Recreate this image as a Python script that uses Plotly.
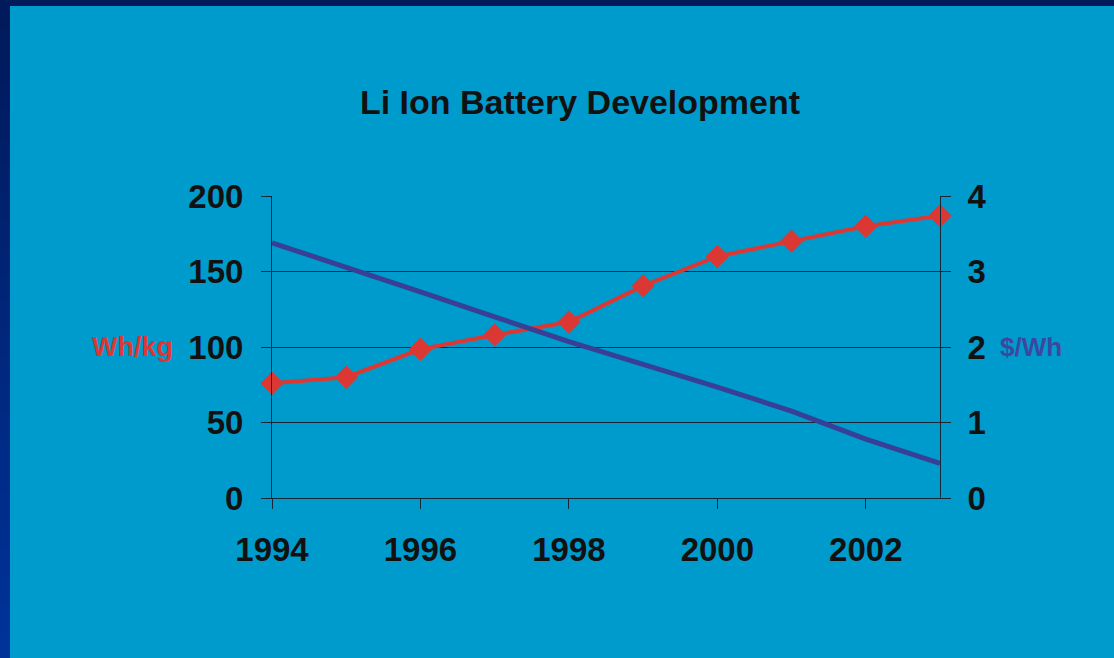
import plotly.graph_objects as go

years = [1994, 1995, 1996, 1997, 1998, 1999, 2000, 2001, 2002, 2003]
wh_per_kg = [76, 80, 98.5, 108, 116.5, 140.5, 160, 170, 180, 187]
usd_per_wh = [3.38, 3.06, 2.73, 2.40, 2.07, 1.77, 1.47, 1.15, 0.78, 0.46]
x_ticks = [1994, 1996, 1998, 2000, 2002]
y_left_ticks = [0, 50, 100, 150, 200]
y_right_ticks = [0, 1, 2, 3, 4]

BG = "rgb(0,155,205)"
RED = "rgb(219,56,52)"
BLUE = "rgb(55,63,150)"
AX = "rgb(25,40,55)"
TXT = "rgb(17,17,17)"
FONT = "Liberation Sans, Arial, sans-serif"

W, H = 1114, 658
L, R, T, B = 272, 174, 196, 160
pw, ph = W - L - R, H - T - B

fig = go.Figure()
fig.add_trace(go.Scatter(
    x=years, y=wh_per_kg, mode="lines+markers", name="Wh/kg",
    line=dict(color=RED, width=4),
    marker=dict(symbol="diamond", size=18, color=RED, line=dict(width=0)),
    yaxis="y", cliponaxis=False,
))
fig.add_trace(go.Scatter(
    x=years, y=usd_per_wh, mode="lines", name="$/Wh",
    line=dict(color=BLUE, width=5),
    yaxis="y2", cliponaxis=False,
))

tickfont = dict(family=FONT, size=33, color=TXT)

fig.update_layout(
    width=W, height=H,
    paper_bgcolor=BG, plot_bgcolor=BG,
    margin=dict(l=L, r=R, t=T, b=B, pad=0),
    showlegend=False,
    title=dict(text="<b>Li Ion Battery Development</b>",
               font=dict(family=FONT, size=34, color=TXT),
               x=580 / W, xanchor="center", xref="container",
               y=1 - 102 / H, yanchor="middle", yref="container"),
    xaxis=dict(type="linear", range=[1994, 2003], tickvals=x_ticks,
               ticktext=[f"<b>{v}</b>" for v in x_ticks],
               showgrid=False, zeroline=False, showline=True,
               linecolor=AX, linewidth=1, ticks="outside", ticklen=10,
               tickcolor=AX, tickwidth=1, tickfont=tickfont,
               ticklabelstandoff=12),
    yaxis=dict(range=[0, 200], tickvals=y_left_ticks,
               ticktext=[f"<b>{v}</b>" for v in y_left_ticks],
               showgrid=True, gridcolor=AX, gridwidth=1, zeroline=False,
               showline=True, linecolor=AX, linewidth=1,
               ticks="outside", ticklen=10, tickcolor=AX, tickwidth=1,
               tickfont=tickfont, ticklabelstandoff=11),
    yaxis2=dict(range=[0, 4], tickvals=y_right_ticks,
                ticktext=[f"<b>{v}</b>" for v in y_right_ticks],
                overlaying="y", side="right", showgrid=False, zeroline=False,
                showline=True, linecolor=AX, linewidth=1,
                ticks="outside", ticklen=10, tickcolor=AX, tickwidth=1,
                tickfont=tickfont, ticklabelstandoff=10),
    annotations=[
        dict(text="<b>Wh/kg</b>", xref="paper", yref="paper",
             x=(175 - L) / pw, y=(H - B - 347) / ph,
             xanchor="right", yanchor="middle", showarrow=False,
             font=dict(family=FONT, size=27, color=RED)),
        dict(text="<b>$/Wh</b>", xref="paper", yref="paper",
             x=(998 - L) / pw, y=(H - B - 347) / ph,
             xanchor="left", yanchor="middle", showarrow=False,
             font=dict(family=FONT, size=26, color="rgb(60,72,160)")),
    ],
)

# slide frame: dark top band and left gradient band
top_y0 = 1 + (T - 6) / ph
top_y1 = 1 + T / ph
left_x0 = -L / pw
left_x1 = (-L + 10) / pw
shapes = []
n = 24
bottom = -B / ph
top = top_y1
step = (top - bottom) / n
for i in range(n):
    f = i / (n - 1)
    r, g, b = 0, int(26 + (51 - 26) * f), int(92 + (153 - 92) * f)
    ya = top - step * i
    yb = top - step * (i + 1) - (step * 0.5 if i < n - 1 else 0)
    shapes.append(dict(type="rect", xref="paper", yref="paper", x0=left_x0, x1=left_x1,
                       y0=yb, y1=ya, fillcolor=f"rgb({r},{g},{b})",
                       line=dict(width=0), layer="above"))
shapes.append(dict(type="rect", xref="paper", yref="paper", x0=left_x0, x1=1 + R / pw,
                   y0=top_y0, y1=top_y1, fillcolor="rgb(0,26,92)", line=dict(width=0),
                   layer="above"))
fig.update_layout(shapes=shapes)

fig.write_html("out.html", config={"displayModeBar": False},
               post_script="document.body.style.margin='0';document.body.style.overflow='hidden';")
